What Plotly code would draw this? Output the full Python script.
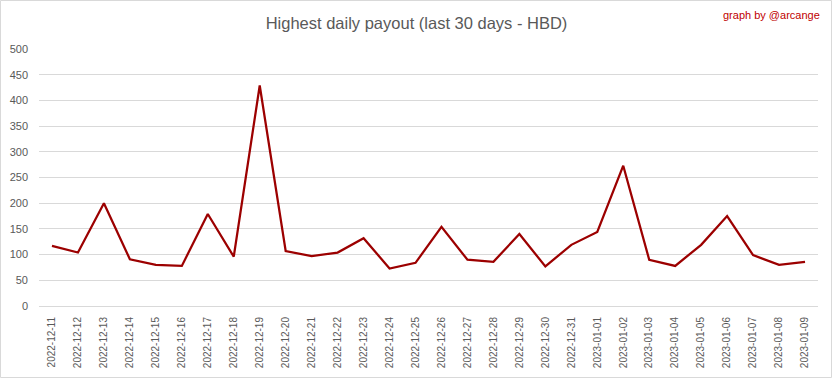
import plotly.graph_objects as go

dates = ["2022-12-11", "2022-12-12", "2022-12-13", "2022-12-14", "2022-12-15",
         "2022-12-16", "2022-12-17", "2022-12-18", "2022-12-19", "2022-12-20",
         "2022-12-21", "2022-12-22", "2022-12-23", "2022-12-24", "2022-12-25",
         "2022-12-26", "2022-12-27", "2022-12-28", "2022-12-29", "2022-12-30",
         "2022-12-31", "2023-01-01", "2023-01-02", "2023-01-03", "2023-01-04",
         "2023-01-05", "2023-01-06", "2023-01-07", "2023-01-08", "2023-01-09"]
payout = [117, 104, 200, 91, 80, 78, 179, 96, 429, 107,
          97, 104, 132, 73, 84, 154, 90, 86, 140, 77,
          119, 144, 273, 90, 78, 119, 175, 99, 80, 86]
y_ticks = [0, 50, 100, 150, 200, 250, 300, 350, 400, 450, 500]

FONT = "Liberation Sans, Arial"
GRAY = "#595959"

L, R, T, B = 39, 15, 49, 73
W, H = 833, 379
pw, ph = W - L - R, H - T - B

fig = go.Figure()
fig.add_trace(go.Scatter(
    x=dates, y=payout, mode="lines",
    line=dict(color="#9C0000", width=2.25),
    hoverinfo="x+y",
))

fig.update_layout(
    width=W, height=H,
    margin=dict(l=L, r=R, t=T, b=B, pad=0, autoexpand=False),
    paper_bgcolor="white", plot_bgcolor="white",
    showlegend=False,
    font=dict(family=FONT, color=GRAY),
    title=dict(
        text="Highest daily payout (last 30 days - HBD)",
        x=0.5, xanchor="center", xref="container",
        y=1 - 23 / H, yanchor="middle", yref="container",
        font=dict(family=FONT, size=16.5, color=GRAY),
    ),
    xaxis=dict(
        type="category", range=[-0.5, len(dates) - 0.5],
        tickangle=-90, tickfont=dict(size=10, color=GRAY),
        showgrid=False, showline=True, linecolor="#D9D9D9", linewidth=1,
        ticks="", ticklabelstandoff=6, fixedrange=True, automargin=False,
    ),
    yaxis=dict(
        range=[0, 500], tickvals=y_ticks,
        tickfont=dict(size=11, color=GRAY),
        showgrid=True, gridcolor="#D9D9D9", gridwidth=1,
        zeroline=False, showline=False, ticks="",
        ticklabelstandoff=10, fixedrange=True, automargin=False,
    ),
    annotations=[dict(
        text="graph by @arcange", xref="paper", yref="paper",
        x=(822 - L) / pw, y=(H - B - 15) / ph, xanchor="right", yanchor="middle",
        showarrow=False, font=dict(family=FONT, size=11, color="#C00000"),
    )],
    shapes=[dict(
        type="rect", xref="paper", yref="paper",
        x0=(0.5 - L) / pw, x1=(W - 1.5 - L) / pw,
        y0=(H - B - (H - 1.5)) / ph, y1=(H - B - 0.5) / ph,
        line=dict(color="#D9D9D9", width=1), fillcolor="rgba(0,0,0,0)",
        layer="below",
    )],
)

fig.write_html(
    "out.html",
    config={"displayModeBar": False},
    post_script="document.body.style.margin='0';document.body.style.overflow='hidden';",
)
